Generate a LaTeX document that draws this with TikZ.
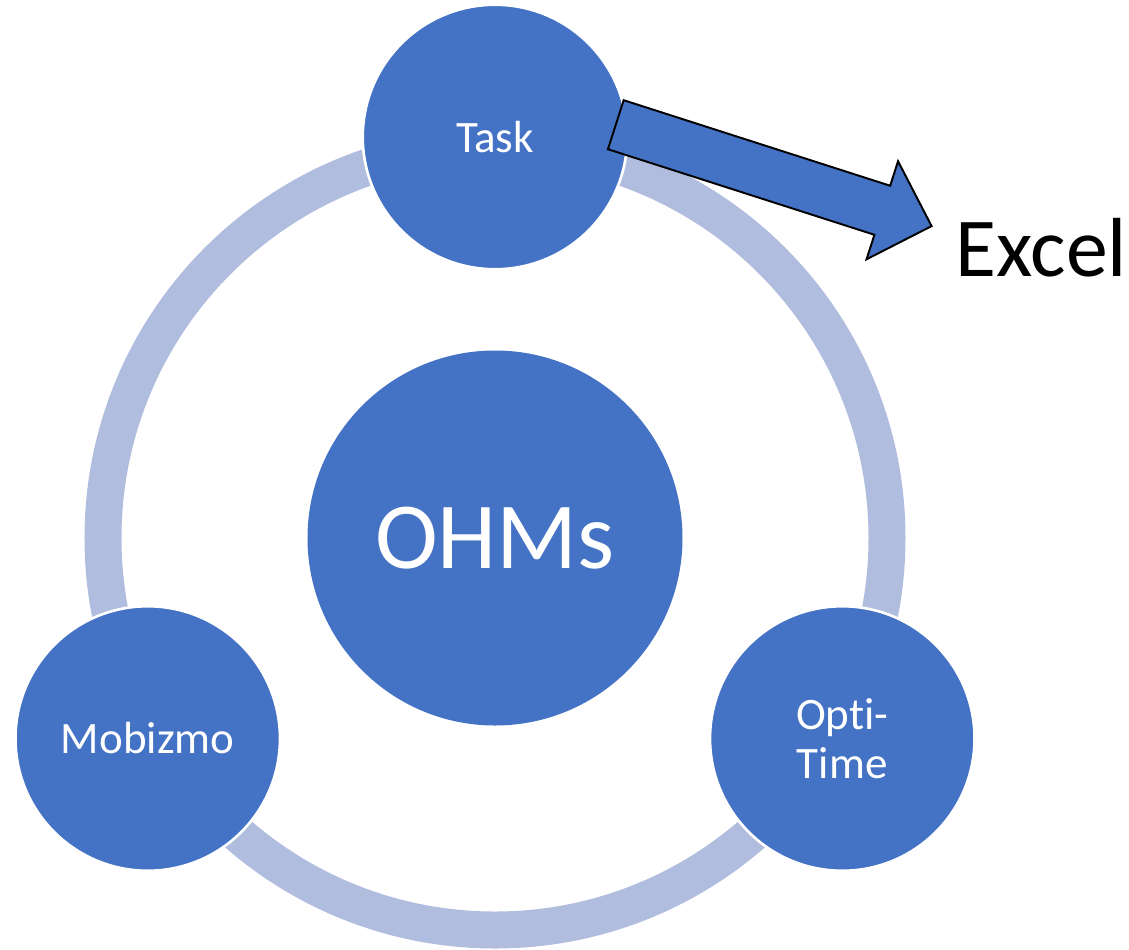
\documentclass[tikz,border=0pt]{standalone}
\usepackage{fontspec}
\setmainfont{Carlito}[Ligatures={NoCommon,NoRare,NoContextual}, Contextuals={NoAlternate}]
\usetikzlibrary{calc}
\definecolor{hubblue}{HTML}{4472C4}
\definecolor{ringblue}{HTML}{B1BDDF}

\begin{document}
\begin{tikzpicture}[
  hub/.style={circle, fill=hubblue, draw=white, line width=1.5pt, inner sep=0pt, text=white, align=center},
  small/.style={hub, minimum size=5.29cm, font=\fontsize{25.6}{27.7}\selectfont},
  ring/.style={draw=ringblue, line width=0.74cm},
  blockarr/.style={fill=hubblue, draw=black, line width=1.1pt, line join=miter}
]
  \useasboundingbox (-9.9,-8.22) rectangle (12.68,10.76);

  % ring behind the circles
  \draw[ring] (0,0) circle (7.84cm);

  \node[hub, minimum size=7.5cm, draw=none, font=\fontsize{53.9}{58}\selectfont] (ohms) at (0,0) {OHMs};
  \node[small] (task) at (90:8.02) {Task};
  \node[small] (mobizmo) at (210:8.02) {Mobizmo};
  \node[small] (optitime) at (330:8.02) {Opt\kern0pt i-\\Time};

  % block arrow out to Excel
  \coordinate (arrtail) at (2.416,8.266);
  \node[anchor=base west, inner sep=0pt, font=\fontsize{47.7}{52}\selectfont] (excel) at (9.2,5.226) {Excel};
  \begin{scope}[shift={(arrtail)}, rotate=-17.8]
    \draw[blockarr] (0,0.515) -- (5.598,0.515) -- (5.598,1.03) -- (6.634,0)
      -- (5.598,-1.03) -- (5.598,-0.515) -- (0,-0.515) -- cycle;
  \end{scope}
\end{tikzpicture}
\end{document}
